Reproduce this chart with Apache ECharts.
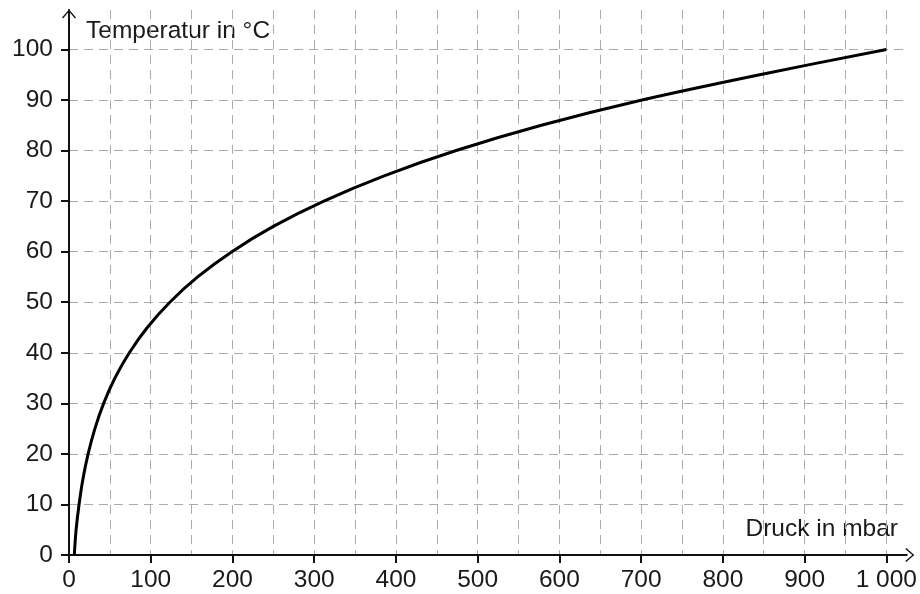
<!DOCTYPE html>
<html>
<head>
<meta charset="utf-8">
<script src="https://cdn.jsdelivr.net/npm/echarts@6/dist/echarts.min.js"></script>
<style>
  html, body { margin: 0; padding: 0; background: #fff; }
  #chart { width: 920px; height: 594px; }
</style>
</head>
<body>
<div id="chart"></div>
<script>
// Siedetemperatur von Wasser in Abhängigkeit vom Druck
var druck = [6.5, 8.7, 12.3, 17, 23.4, 31.7, 42.4, 56.2, 73.8, 95.8, 123.4, 157.4,
  199.3, 250, 311.8, 385.6, 473.7, 578, 701, 845, 1000];
var temperatur = [0, 5, 10, 15, 20, 25, 30, 35, 40, 45, 50, 55,
  60, 65, 70, 75, 80, 85, 90, 95, 100];
var xTicks = [0, 100, 200, 300, 400, 500, 600, 700, 800, 900, 1000];
var xTickLabels = ['0', '100', '200', '300', '400', '500', '600', '700', '800', '900', '1 000'];

(function() {
  var chartDom = document.getElementById('chart');
  var myChart = echarts.init(chartDom);
  var option;

  var fontFam = '"Liberation Sans", Arial, sans-serif';
  var arrow = 'path://M0,0 L7,8 L6,9 L0,2 L-6,9 L-7,8 Z';
  var dashStyle = { color: '#ababab', width: 1, type: [9, 6] };

  var points = druck.map(function(d, i) { return [d, temperatur[i]]; });

  option = {
    animation: false,
    backgroundColor: '#fff',
    grid: { left: 69, right: 8, top: 10, bottom: 39, containLabel: false },
    xAxis: [
      {
        type: 'value',
        min: 0,
        max: 1025,
        interval: 100,
        axisLine: {
          show: true,
          lineStyle: { color: '#111', width: 2 },
          symbol: ['none', arrow],
          symbolSize: [14, 9],
          symbolOffset: [0, 3]
        },
        axisTick: { show: true, length: 8, lineStyle: { color: '#111', width: 2 } },
        axisLabel: {
          showMaxLabel: false,
          color: '#1a1a1a',
          fontSize: 24.5,
          fontFamily: fontFam,
          margin: 13,
          formatter: function(v) {
            var i = xTicks.indexOf(v);
            return i >= 0 ? xTickLabels[i] : '';
          }
        },
        splitLine: { show: false }
      },
      {
        // nur für das Gitter (alle 50 mbar)
        type: 'value',
        position: 'bottom',
        min: 0,
        max: 1025,
        interval: 50,
        axisLine: { show: false },
        axisTick: { show: false },
        axisLabel: { show: false },
        splitLine: { show: true, showMinLine: false, showMaxLine: false, lineStyle: dashStyle }
      }
    ],
    yAxis: {
      type: 'value',
      min: 0,
      max: 107.8,
      interval: 10,
      axisLine: {
        show: true,
        lineStyle: { color: '#111', width: 2 },
        symbol: ['none', arrow],
        symbolSize: [14, 9],
        symbolOffset: [0, -4]
      },
      axisTick: { show: true, length: 8, lineStyle: { color: '#111', width: 2 } },
      axisLabel: {
        showMaxLabel: false,
        color: '#1a1a1a',
        fontSize: 24.5,
        fontFamily: fontFam,
        margin: 16
      },
      splitLine: { show: true, showMinLine: false, showMaxLine: false, lineStyle: dashStyle }
    },
    graphic: [
      {
        type: 'text',
        left: 86,
        top: 19,
        style: { text: 'Temperatur in °C', fill: '#1a1a1a', font: '24.5px ' + fontFam }
      },
      {
        type: 'text',
        right: 22,
        top: 517,
        style: { text: 'Druck in mbar', fill: '#1a1a1a', font: '24.5px ' + fontFam }
      }
    ],
    series: [
      {
        type: 'line',
        xAxisIndex: 0,
        data: points,
        smooth: 0.3,
        showSymbol: false,
        symbol: 'none',
        lineStyle: { color: '#000', width: 3 },
        z: 5
      }
    ]
  };

  option && myChart.setOption(option);
})();
</script>
</body>
</html>
